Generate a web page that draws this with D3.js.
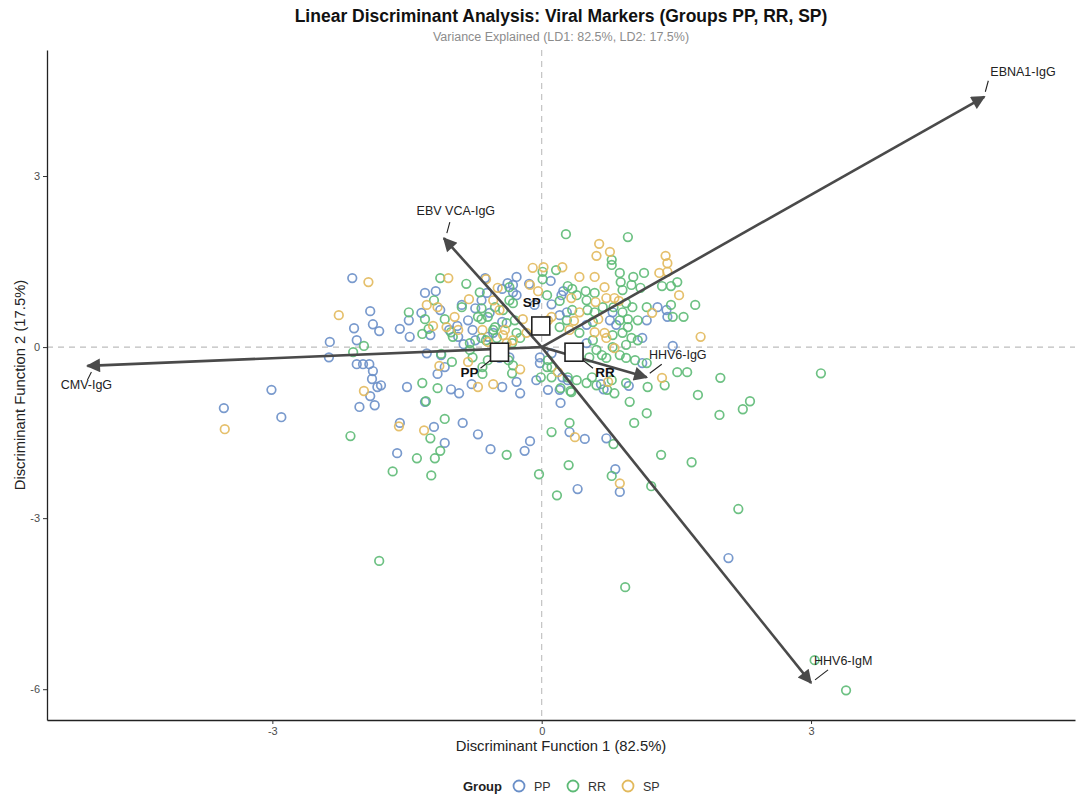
<!DOCTYPE html>
<html>
<head>
<meta charset="utf-8">
<script src="https://cdn.jsdelivr.net/npm/d3@7"></script>
<style>
  body { margin: 0; background: #fff; }
  svg { font-family: "Liberation Sans", Arial, sans-serif; }
</style>
</head>
<body>
<div id="chart"></div>
<script>
// LDA scores per group, [LD1, LD2]
var ppScores = [
  [-2.11,1.21],[-1.91,0.63],[-2.09,0.33],[-1.88,0.40],[-1.81,0.28],[-2.36,0.09],[-2.06,0.12],[-2.37,-0.18],
  [-2.06,-0.30],[-1.99,-0.30],[-1.92,-0.30],[-1.88,-0.42],[-1.89,-0.56],[-1.83,-0.70],[-1.79,-0.67],[-1.91,-0.86],
  [-1.86,-1.02],[-2.03,-1.05],[-3.01,-0.75],[-3.54,-1.07],[-2.90,-1.23],[-1.58,0.32],[-1.47,0.18],[-1.48,0.47],
  [-1.58,-1.33],[-1.50,-0.70],[-1.61,-1.86],
  [-1.30,0.95],[-1.18,0.98],[-1.34,0.60],[-0.93,0.18],[-0.89,0.74],[-0.74,0.68],[-0.61,0.95],[-0.67,0.82],
  [-0.63,1.21],[-0.87,0.05],[-0.74,0.12],[-1.12,-0.14],[-1.08,-0.35],[-1.16,-0.47],[-1.01,-0.74],[-0.92,-0.81],
  [-0.78,-0.65],[-1.30,-0.96],[-1.20,-1.40],[-0.88,-1.33],[-0.71,-1.53],[-1.08,-1.68],[-0.57,-1.79],[-1.24,0.21],
  [-1.13,0.65],[-1.03,0.30],[-0.94,0.37],[-0.82,0.47],[-0.77,0.30],[-0.60,0.18],[-1.28,-0.11],
  [-0.28,1.23],[-0.32,1.09],[-0.14,1.11],[-0.44,1.02],[-0.38,1.12],[-0.28,0.91],[-0.08,0.74],[-0.58,0.60],
  [-0.44,0.44],[-0.54,0.25],[-0.47,-0.19],[-0.44,-0.70],[-0.28,-0.61],[-0.24,-0.81],[-0.36,-0.18],[-0.02,-0.18],
  [-0.06,-0.58],[0.11,-0.11],[-0.02,-0.28],[0.07,-0.75],[-0.13,-1.65],[-0.19,-1.82],[0.10,1.16],[0.11,0.75],
  [0.20,0.56],[0.28,0.61],[-0.32,0.96],
  [0.24,0.98],[0.22,0.91],[0.79,0.61],[1.29,0.70],[1.39,0.65],[1.40,0.53],[1.17,0.47],[0.83,0.39],
  [0.76,0.47],[0.50,0.39],[1.12,0.16],[0.50,0.07],[1.12,-0.28],[0.66,-0.65],[0.23,-0.53],[0.20,-0.75],
  [0.21,-0.98],[1.46,0.02],[0.29,-0.58],[0.69,-0.74],[0.97,-0.68],[0.31,-1.49],[0.48,-1.61],[0.72,-1.60],
  [0.82,-2.14],[0.87,-2.54],[0.40,-2.49],[2.08,-3.70]
];
var rrScores = [
  [-1.98,0.02],[-2.10,-0.09],[-2.13,-1.56],[-1.48,0.61],[-1.81,-3.75],[-1.66,-2.18],
  [-1.13,1.21],[-0.84,1.11],[-1.20,0.82],[-1.30,0.49],[-1.26,0.32],[-1.33,0.23],[-1.08,0.49],[-1.01,0.26],
  [-0.67,0.49],[-0.62,0.12],[-1.12,-0.12],[-1.00,-0.26],[-0.66,-0.47],[-1.33,-0.63],[-1.16,-0.72],[-1.29,-0.95],
  [-1.08,-1.26],[-1.24,-1.60],[-1.13,-1.82],[-1.39,-1.95],[-1.19,-1.95],[-1.23,-2.25],[-0.99,0.18],[-0.89,0.70],
  [-0.69,0.96],[-0.67,0.68],[-0.71,0.53],[-0.80,0.07],[-0.80,-0.05],[-0.77,-0.18],
  [0.01,1.32],[0.16,1.35],[0.01,1.19],[-0.36,1.05],[-0.36,0.82],[-0.43,0.65],[-0.52,0.70],[-0.32,0.77],
  [-0.60,0.53],[-0.52,0.35],[-0.39,0.42],[-0.30,0.47],[-0.67,0.16],[-0.54,0.30],[-0.50,0.16],[-0.28,0.25],
  [-0.33,0.07],[-0.24,0.16],[-0.37,-0.23],[-0.60,-0.23],[-0.66,-0.35],[-0.33,-0.46],[-0.32,-0.32],[0.07,-0.23],
  [0.06,-0.35],[-0.01,-0.53],[0.11,-0.53],[0.11,-0.35],[0.06,0.91],[0.20,0.81],[-0.39,-1.89],[-0.03,-2.23],
  [0.27,1.98],[0.96,1.93],[0.78,1.53],[0.78,1.44],[0.87,1.30],[1.02,1.23],[1.14,1.30],[1.51,1.14],
  [1.34,1.07],[1.44,1.07],[1.71,0.74],[0.88,1.14],[1.00,1.09],[0.90,1.00],[1.10,1.04],[0.59,0.95],
  [0.49,0.98],[0.34,1.02],[0.29,1.07],[0.39,0.91],[0.50,0.82],[0.80,0.70],[0.94,0.77],[1.01,0.70],
  [1.17,0.70],[1.44,0.74],[1.58,0.53],[1.46,0.53],[1.07,0.47],[0.96,0.49],[0.87,0.47],[0.96,0.35],
  [0.57,0.44],[0.28,0.47],[0.20,0.35],[0.42,0.25],[0.79,0.21],[0.90,0.25],[1.00,0.16],[1.07,0.12],
  [0.79,0.00],[0.94,0.04],[0.57,0.12],[0.61,-0.05],[0.67,-0.14],[0.53,-0.18],[0.72,-0.19],[0.87,-0.14],
  [0.94,-0.19],[1.04,-0.23],[1.17,-0.28],[1.51,-0.44],[1.62,-0.44],[1.99,-0.54],[1.74,-0.84],[1.18,-0.70],
  [0.94,-0.63],[0.78,-0.58],[0.73,-0.75],[0.81,-0.81],[0.56,-0.53],[0.50,-0.63],[0.39,-0.58],[0.29,-0.53],
  [0.33,-0.79],[0.34,0.65],[0.51,0.65],[0.59,0.61],[0.68,0.70],[0.90,0.61],[0.21,-0.72],[0.32,-0.77],
  [0.61,-0.67],[1.37,-0.67],[0.98,-0.96],[1.17,-1.16],[1.03,-1.33],[1.98,-1.19],[2.24,-1.09],[2.32,-0.95],
  [0.31,-1.33],[0.11,-1.49],[0.80,-1.70],[1.33,-1.89],[1.67,-2.02],[0.30,-2.07],[0.78,-2.26],[0.17,-2.60],
  [1.22,-2.44],[2.19,-2.84],[3.11,-0.46],[0.93,-4.21],[3.04,-5.49],[3.39,-6.02]
];
var spScores = [
  [-1.93,1.14],[-2.26,0.56],[-1.98,-0.77],[-3.53,-1.44],[-1.59,-1.39],
  [-1.04,1.21],[-1.28,0.74],[-1.16,0.70],[-1.21,0.37],[-0.97,0.53],[-1.06,0.35],[-0.93,0.30],[-0.81,0.84],
  [-0.62,1.19],[-0.66,0.30],[-1.14,-0.33],[-0.82,-0.26],[-0.71,-0.70],[-0.54,-0.65],[-1.31,-1.46],
  [-0.10,1.39],[0.02,1.40],[0.23,1.40],[-0.13,1.09],[-0.49,1.04],[-0.04,0.98],[-0.54,0.82],[-0.47,0.65],
  [-0.43,0.21],[-0.39,0.07],[-0.60,0.09],[-0.32,0.12],[-0.17,0.25],[-0.21,0.49],[0.07,0.47],[0.11,0.53],
  [-0.41,0.30],[-0.24,-0.39],[0.18,-0.44],
  [0.64,1.81],[0.76,1.67],[0.61,1.60],[1.38,1.60],[1.40,1.47],[0.42,1.23],[0.59,1.23],[1.31,1.30],
  [1.40,1.32],[1.53,0.91],[0.70,1.05],[0.33,0.86],[0.72,0.86],[0.81,0.86],[0.86,0.81],[1.23,0.60],
  [1.77,0.18],[0.63,0.49],[0.36,0.46],[0.31,0.30],[0.59,0.26],[0.70,0.25],[0.72,0.16],[0.81,-0.02],
  [0.42,0.61],[0.60,0.79],[1.34,-0.54],[0.74,-0.61],[0.37,-1.58],[0.87,-2.39]
];

var groups = ["PP", "RR", "SP"];
var groupColors = ["#6a8fc8", "#5dba76", "#e2b95c"];

// group centroids [LD1, LD2]
var centroidNames = ["PP", "SP", "RR"];
var centroids = [[-0.47, -0.09], [-0.01, 0.37], [0.36, -0.09]];

// marker loadings (arrow tips)
var markers = ["EBNA1-IgG", "EBV VCA-IgG", "CMV-IgG", "HHV6-IgG", "HHV6-IgM"];
var loadings = [[4.93, 4.39], [-1.09, 1.91], [-5.06, -0.33], [1.17, -0.53], [3.00, -5.89]];

var xTicks = [-3, 0, 3];
var yTicks = [-6, -3, 0, 3];

var W = 1085, H = 796;
var margin = {top: 50, right: 10, bottom: 76, left: 47};
var width = W - margin.left - margin.right,
    height = H - margin.top - margin.bottom;

var svg = d3.select("#chart").append("svg").attr("width", W).attr("height", H);

var x = d3.scaleLinear().domain([-5.51, 5.94]).range([0, width]);
var y = d3.scaleLinear().domain([-6.54, 5.21]).range([height, 0]);
var color = d3.scaleOrdinal().domain(groups).range(groupColors);

svg.append("defs").append("marker")
    .attr("id", "arrow")
    .attr("viewBox", "0 0 10 10")
    .attr("refX", 9).attr("refY", 5)
    .attr("markerUnits", "userSpaceOnUse")
    .attr("markerWidth", 16).attr("markerHeight", 14)
    .attr("orient", "auto")
  .append("path")
    .attr("d", "M0,0 L10,5 L0,10 Z")
    .attr("fill", "#4a4a4a");

// titles
svg.append("text").attr("x", margin.left + width / 2).attr("y", 22)
    .attr("text-anchor", "middle").attr("font-size", 17.5).attr("font-weight", "bold").attr("fill", "#111")
    .text("Linear Discriminant Analysis: Viral Markers (Groups PP, RR, SP)");
svg.append("text").attr("x", margin.left + width / 2).attr("y", 41)
    .attr("text-anchor", "middle").attr("font-size", 12.5).attr("fill", "#8c8c8c")
    .text("Variance Explained (LD1: 82.5%, LD2: 17.5%)");

var g = svg.append("g").attr("transform", "translate(" + margin.left + "," + margin.top + ")");

// zero reference lines
g.append("line").attr("x1", 0).attr("x2", width).attr("y1", y(0)).attr("y2", y(0))
    .attr("stroke", "#bdbdbd").attr("stroke-width", 1.1).attr("stroke-dasharray", "6,5");
g.append("line").attr("x1", x(0)).attr("x2", x(0)).attr("y1", 0).attr("y2", height)
    .attr("stroke", "#bdbdbd").attr("stroke-width", 1.1).attr("stroke-dasharray", "6,5");

// axes
var fmt = function(d) { return String(d); };
var xAxis = g.append("g").attr("transform", "translate(0," + height + ")")
    .call(d3.axisBottom(x).tickValues(xTicks).tickFormat(fmt).tickSize(4).tickSizeOuter(0).tickPadding(3));
var yAxis = g.append("g")
    .call(d3.axisLeft(y).tickValues(yTicks).tickFormat(fmt).tickSize(4).tickSizeOuter(0).tickPadding(3));
[xAxis, yAxis].forEach(function(a) {
    a.select(".domain").attr("stroke", "#222").attr("stroke-width", 1.3);
    a.selectAll(".tick line").attr("stroke", "#333");
    a.selectAll(".tick text").attr("fill", "#4d4d4d").attr("font-size", 11)
        .attr("font-family", "Liberation Sans, Arial, sans-serif");
});

svg.append("text").attr("x", margin.left + width / 2).attr("y", 751)
    .attr("text-anchor", "middle").attr("font-size", 14.8).attr("fill", "#222")
    .text("Discriminant Function 1 (82.5%)");
svg.append("text")
    .attr("transform", "translate(25," + (margin.top + height / 2) + ") rotate(-90)")
    .attr("text-anchor", "middle").attr("font-size", 14.8).attr("fill", "#222")
    .text("Discriminant Function 2 (17.5%)");

// points
var scoreSets = [ppScores, rrScores, spScores];
scoreSets.forEach(function(set, i) {
    g.append("g").selectAll("circle")
        .data(set)
        .enter().append("circle")
        .attr("cx", function(d) { return x(d[0]); })
        .attr("cy", function(d) { return y(d[1]); })
        .attr("r", 4.3)
        .attr("fill", "none")
        .attr("stroke", color(groups[i]))
        .attr("stroke-width", 1.7)
        .attr("stroke-opacity", 0.9);
});

// loading arrows
g.append("g").selectAll("line")
    .data(loadings)
    .enter().append("line")
    .attr("x1", x(0)).attr("y1", y(0))
    .attr("x2", function(d) { return x(d[0]); })
    .attr("y2", function(d) { return y(d[1]); })
    .attr("stroke", "#4a4a4a").attr("stroke-width", 2.6)
    .attr("marker-end", "url(#arrow)");

// arrow labels with short leader segments (offsets in px)
var labelOffsets = [
    {dx: 6, dy: -21, anchor: "start", l: [[1, -5], [4, -16]]},
    {dx: 12, dy: -23, anchor: "middle", l: [[3, -5], [6, -16]]},
    {dx: -1, dy: 23, anchor: "middle", l: [[4, 6], [0, 14]]},
    {dx: 31, dy: -18, anchor: "middle", l: [[3, -4], [15, -13]]},
    {dx: 3, dy: -18, anchor: "start", l: [[4, -3], [17, -13]]}
];
var lab = g.append("g");
markers.forEach(function(m, i) {
    var px = x(loadings[i][0]), py = y(loadings[i][1]), o = labelOffsets[i];
    lab.append("line")
        .attr("x1", px + o.l[0][0]).attr("y1", py + o.l[0][1])
        .attr("x2", px + o.l[1][0]).attr("y2", py + o.l[1][1])
        .attr("stroke", "#222").attr("stroke-width", 1.1);
    lab.append("text")
        .attr("x", px + o.dx).attr("y", py + o.dy)
        .attr("text-anchor", o.anchor).attr("font-size", 12.5).attr("fill", "#222")
        .text(m);
});

// centroids
var cg = g.append("g");
cg.selectAll("rect")
    .data(centroids)
    .enter().append("rect")
    .attr("x", function(d) { return x(d[0]) - 9; })
    .attr("y", function(d) { return y(d[1]) - 9; })
    .attr("width", 18).attr("height", 18)
    .attr("fill", "#fff").attr("stroke", "#222").attr("stroke-width", 1.6);

var centroidLabels = [
    {dx: -30, dy: 20, l: [[-9, 8], [-19, 16]]},
    {dx: -9, dy: -24, l: null},
    {dx: 31, dy: 20, l: [[9, 8], [19, 16]]}
];
centroidNames.forEach(function(n, i) {
    var px = x(centroids[i][0]), py = y(centroids[i][1]), o = centroidLabels[i];
    if (o.l) {
        cg.append("line")
            .attr("x1", px + o.l[0][0]).attr("y1", py + o.l[0][1])
            .attr("x2", px + o.l[1][0]).attr("y2", py + o.l[1][1])
            .attr("stroke", "#222").attr("stroke-width", 1.1);
    }
    cg.append("text")
        .attr("x", px + o.dx).attr("y", py + o.dy + 5)
        .attr("text-anchor", "middle").attr("font-size", 13.5).attr("font-weight", "bold").attr("fill", "#111")
        .text(n);
});

// legend
var leg = svg.append("g").attr("transform", "translate(0,786)");
leg.append("text").attr("x", 463).attr("y", 4.5).attr("font-size", 13).attr("font-weight", "bold")
    .attr("fill", "#222").text("Group");
var legX = [519, 573, 628];
groups.forEach(function(gr, i) {
    leg.append("circle").attr("cx", legX[i]).attr("cy", 0).attr("r", 5.5)
        .attr("fill", "none").attr("stroke", color(gr)).attr("stroke-width", 1.8);
    leg.append("text").attr("x", legX[i] + 15).attr("y", 4.5).attr("font-size", 12.5)
        .attr("fill", "#333").text(gr);
});
</script>
</body>
</html>
